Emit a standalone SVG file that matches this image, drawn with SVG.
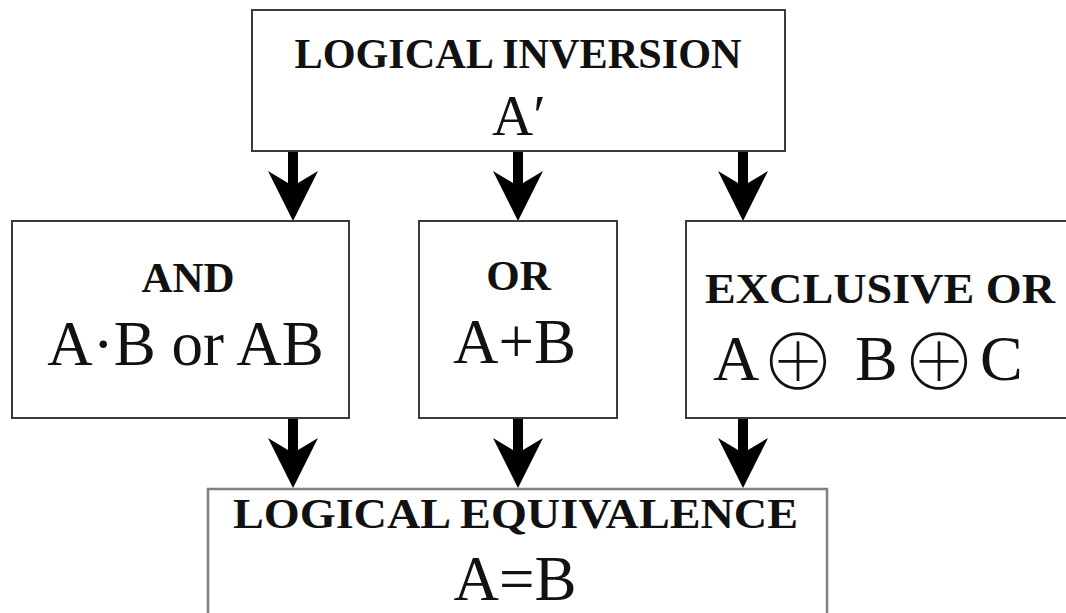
<svg xmlns="http://www.w3.org/2000/svg" width="1066" height="613" viewBox="0 0 1066 613">
<style>
.box{fill:#fff;stroke:#3a3a3a;stroke-width:2}
.box2{fill:#fff;stroke:#808080;stroke-width:2.5}
.h{font-family:"Liberation Serif","Times New Roman",serif;font-weight:bold;font-size:43px;fill:#111;text-anchor:middle}
.f{font-family:"Liberation Serif","Times New Roman",serif;font-size:63px;fill:#111}
.op{font-family:"Noto Sans CJK JP","Noto Sans CJK SC",sans-serif;font-weight:100;font-size:76px;fill:#111}
.arr{fill:#000}
</style>
<rect width="1066" height="613" fill="#fff"/>
<g id="connectors">
<path class="arr" d="M288,150 L298,150 L298,183 L318,171 L293,221 L268,171 L288,183 Z"/>
<path class="arr" d="M513,150 L523,150 L523,183 L543,171 L518,221 L493,171 L513,183 Z"/>
<path class="arr" d="M738,150 L748,150 L748,183 L768,171 L743,221 L718,171 L738,183 Z"/>
<path class="arr" d="M288,417 L298,417 L298,450 L318,438 L293,488 L268,438 L288,450 Z"/>
<path class="arr" d="M513,417 L523,417 L523,450 L543,438 L518,488 L493,438 L513,450 Z"/>
<path class="arr" d="M738,417 L748,417 L748,450 L768,438 L743,488 L718,438 L738,450 Z"/>
</g>
<g id="inversion">
<rect class="box" x="252" y="10" width="533" height="141"/>
<text class="h" x="518" y="68" textLength="447" lengthAdjust="spacingAndGlyphs">LOGICAL INVERSION</text>
<text class="f" x="492" y="135" style="font-size:57px">A′</text>
</g>
<g id="and">
<rect class="box" x="12" y="221" width="337" height="197"/>
<text class="h" x="188" y="292">AND</text>
<text class="f" x="185.5" y="365" text-anchor="middle">A·B or AB</text>
</g>
<g id="or">
<rect class="box" x="419" y="221" width="198" height="197"/>
<text class="h" x="518.5" y="290">OR</text>
<text class="f" x="514.5" y="363" text-anchor="middle">A+B</text>
</g>
<g id="xor">
<rect class="box" x="686" y="221" width="400" height="197"/>
<text class="h" x="880" y="303" textLength="350" lengthAdjust="spacingAndGlyphs">EXCLUSIVE OR</text>
<text y="380"><tspan class="f" x="713" y="380" style="font-size:64px">A</tspan><tspan class="op" x="760" y="390">⊕</tspan><tspan class="f" x="855" y="380" style="font-size:64px">B</tspan><tspan class="op" x="901" y="390">⊕</tspan><tspan class="f" x="980" y="380" style="font-size:64px">C</tspan></text>
</g>
<g id="equivalence">
<rect class="box2" x="208" y="489" width="619" height="140"/>
<text class="h" x="515.5" y="528" textLength="565" lengthAdjust="spacingAndGlyphs">LOGICAL EQUIVALENCE</text>
<text class="f" x="515" y="600" text-anchor="middle">A=B</text>
</g>
</svg>
